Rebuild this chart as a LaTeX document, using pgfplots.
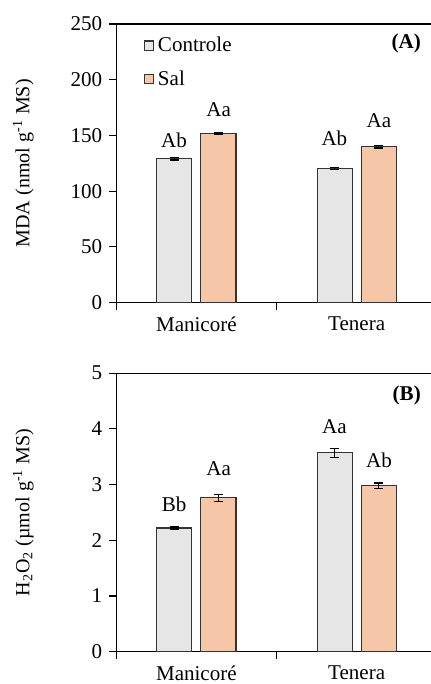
\documentclass[border=0pt]{standalone}
\usepackage{fontspec}
\setmainfont{Liberation Serif}
\usepackage{pgfplots}
\pgfplotsset{compat=1.18}
\definecolor{ctrl}{HTML}{E6E6E6}
\definecolor{sal}{HTML}{F6C6A9}
\definecolor{edge}{HTML}{333333}
\pgfplotsset{
  myaxis/.style={
    scale only axis, width=160pt, height=139pt,
    xmin=-0.5, xmax=1.5, ymin=0,
    axis x line*=box, axis y line*=left,
    xtick={-0.5,0.5,1.5}, x tick label as interval,
    xticklabels={Manicoré,Tenera},
    xtick pos=bottom, ytick pos=left,
    tick align=outside, major tick length=3.5pt,
    every tick/.style={black, line width=0.6pt},
    axis line style={line width=0.6pt, black},
    /pgf/number format/assume math mode=true,
    tick label style={font=\fontsize{10.5}{12}\selectfont},
    label style={font=\fontsize{11.2}{13}\selectfont},
    ybar=4.5pt, bar width=17.5pt,
    every axis y label/.style={at={(axis description cs:-0.29,0.5)}, rotate=90, anchor=center},
    error bars/y dir=both, error bars/y explicit,
    error bars/error bar style={line width=0.7pt, black},
    error bars/error mark options={rotate=90, mark size=2.2pt, line width=0.7pt, black},
    clip=false,
  }
}
\begin{document}
\begin{tikzpicture}
\begin{axis}[myaxis, name=A, ymax=250, ytick={0,50,...,250},
  ylabel={MDA (nmol g\textsuperscript{-1} MS)},
  legend style={draw=none, fill=none, at={(axis description cs:0.084,0.97)}, anchor=north west,
    row sep=4pt, font=\fontsize{10.5}{12}\selectfont, inner sep=0pt,
    /tikz/every even column/.style={column sep=0pt}},
  legend image code/.code={\draw[#1, line width=0.6pt] (0pt,-2.3pt) rectangle (4.6pt,2.3pt);},
  legend cell align=left,
]
\addplot[fill=ctrl, draw=edge, line width=0.6pt] coordinates {(0,129) +- (0,1.2) (1,120.5) +- (0,0.8)};
\addplot[fill=sal, draw=edge, line width=0.6pt] coordinates {(0,152) +- (0,0.8) (1,140) +- (0,1.2)};
\legend{Controle,Sal}
\node at (axis cs:-0.139,145.7) {\fontsize{10.5}{12}\selectfont Ab};
\node at (axis cs:0.139,172.7) {\fontsize{10.5}{12}\selectfont Aa};
\node at (axis cs:0.861,147.7) {\fontsize{10.5}{12}\selectfont Ab};
\node at (axis cs:1.139,163.7) {\fontsize{10.5}{12}\selectfont Aa};
\node[anchor=east] at (axis description cs:0.972,0.93) {\fontsize{10.5}{12}\selectfont\bfseries (A)};
\end{axis}
\begin{axis}[myaxis, name=B, at={(A.south west)}, anchor=north west, yshift=-35.2pt,
  ymax=5, ytick={0,1,...,5},
  ylabel={H\textsubscript{2}O\textsubscript{2} (µmol g\textsuperscript{-1} MS)},
]
\addplot[fill=ctrl, draw=edge, line width=0.6pt] coordinates {(0,2.22) +- (0,0.015) (1,3.57) +- (0,0.08)};
\addplot[fill=sal, draw=edge, line width=0.6pt] coordinates {(0,2.76) +- (0,0.06) (1,2.98) +- (0,0.05)};
\node at (axis cs:-0.139,2.64) {\fontsize{10.5}{12}\selectfont Bb};
\node at (axis cs:0.139,3.29) {\fontsize{10.5}{12}\selectfont Aa};
\node at (axis cs:0.861,4.03) {\fontsize{10.5}{12}\selectfont Aa};
\node at (axis cs:1.139,3.44) {\fontsize{10.5}{12}\selectfont Ab};
\node[anchor=east] at (axis description cs:0.972,0.92) {\fontsize{10.5}{12}\selectfont\bfseries (B)};
\end{axis}
\pgfresetboundingbox
\path ([shift={(-58pt,12pt)}]A.north west) rectangle ([shift={(157pt,-16.15pt)}]B.south west);
\end{tikzpicture}
\end{document}
